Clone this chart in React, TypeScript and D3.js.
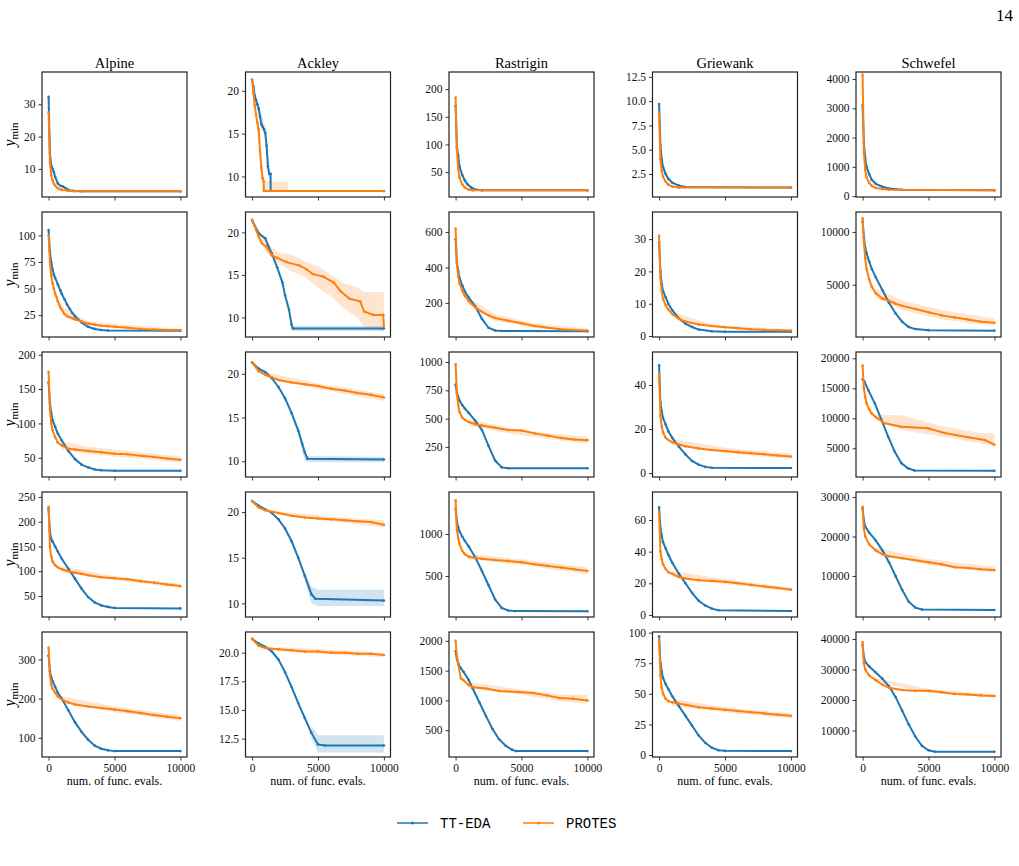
import { useEffect, useRef } from "react";
import * as d3 from "d3";

const FUNCS = ["Alpine", "Ackley", "Rastrigin", "Griewank", "Schwefel"];
const SERIES = ["TT-EDA", "PROTES"];
const X_TICKS = [0, 5000, 10000];

// each row of a function: list of [evals, y_min]
const alpineEda = [
  [[0, 32.3], [100, 15], [200, 11], [300, 10], [400, 9], [500, 7.5], [700, 5.5], [900, 4.8], [1100, 4.5], [1300, 4], [1500, 3.5], [1800, 3.2], [2500, 3.1], [10000, 3.1]],
  [[0, 105], [100, 85], [200, 75], [300, 68], [400, 63], [500, 60], [700, 54], [900, 48], [1000, 45], [1200, 40], [1400, 35], [1600, 31], [1800, 27], [2000, 24], [2500, 18], [3000, 14], [3500, 12], [4000, 11], [4500, 10.5], [10000, 10.3]],
  [[0, 160], [100, 130], [200, 115], [300, 105], [500, 95], [700, 85], [1000, 75], [1500, 60], [2000, 48], [2500, 40], [3000, 36], [3500, 33], [4000, 32], [5000, 31], [10000, 31]],
  [[0, 225], [100, 180], [200, 165], [300, 160], [500, 150], [700, 140], [1000, 125], [1500, 105], [2000, 85], [2500, 65], [3000, 48], [3500, 37], [4000, 31], [4500, 28], [5000, 26], [10000, 25]],
  [[0, 310], [100, 270], [200, 255], [300, 245], [500, 230], [700, 215], [1000, 200], [1500, 170], [2000, 140], [2500, 115], [3000, 95], [3500, 80], [4000, 72], [4500, 68], [5000, 66], [10000, 66]],
];
const alpineProtes = [
  [[0, 27.5], [100, 12], [200, 8], [300, 6.5], [400, 5.5], [500, 4.8], [700, 4], [1000, 3.5], [1500, 3.2], [2000, 3.1], [10000, 3.1]],
  [[0, 100], [100, 75], [200, 62], [300, 55], [400, 50], [500, 45], [600, 42], [700, 38], [800, 35], [900, 32], [1000, 30], [1200, 26], [1400, 24], [1600, 23], [1800, 22], [2000, 21], [2500, 19], [3000, 17], [3500, 16], [4000, 15], [4500, 14.5], [5000, 14], [6000, 13], [7000, 12], [8000, 11.5], [9000, 11], [10000, 11]],
  [[0, 175], [100, 120], [200, 100], [300, 90], [500, 80], [700, 72], [1000, 68], [1500, 63], [2000, 62], [3000, 60], [4000, 58], [5000, 56], [6000, 55], [7000, 53], [8000, 51], [9000, 49], [10000, 47]],
  [[0, 230], [100, 150], [200, 130], [300, 120], [500, 112], [700, 108], [1000, 104], [1500, 100], [2000, 97], [2500, 95], [3000, 92], [4000, 88], [5000, 86], [6000, 84], [7000, 80], [8000, 77], [9000, 73], [10000, 70]],
  [[0, 330], [100, 260], [200, 235], [300, 225], [500, 215], [700, 205], [1000, 198], [1500, 190], [2000, 185], [3000, 180], [4000, 176], [5000, 172], [6000, 168], [7000, 163], [8000, 158], [9000, 154], [10000, 150]],
];
const alpineBand = [
  [],
  [[1000, 28, 33], [3000, 16, 19], [10000, 10.5, 12]],
  [[1000, 62, 74], [3000, 55, 66], [6000, 50, 60], [10000, 43, 52]],
  [[1000, 98, 110], [5000, 82, 90], [10000, 66, 74]],
  [[1000, 190, 206], [5000, 165, 180], [10000, 143, 157]],
];
const alpineTicks = [[10, 20, 30], [25, 50, 75, 100], [50, 100, 150, 200], [50, 100, 150, 200, 250], [100, 200, 300]];
const alpineLims = [[1.3, 40], [4.4, 122], [22, 204], [7.6, 260], [51, 370]];

const ackleyEda = [
  [[0, 21.3], [100, 20.5], [200, 19.4], [300, 18.9], [400, 18.4], [500, 17.9], [600, 17], [700, 16.1], [800, 15.8], [900, 15.5], [1000, 15.1], [1100, 13.6], [1200, 11.2], [1300, 10.3], [1400, 10.3], [1410, 8.3], [10000, 8.3]],
  [[0, 21.4], [500, 19.9], [1000, 19.3], [1200, 18.5], [1500, 17.5], [1900, 15.9], [2300, 14.1], [2500, 12.6], [2800, 10.9], [3000, 9.1], [3100, 8.7], [10000, 8.7]],
  [[0, 21.3], [500, 20.6], [1000, 20.2], [1500, 19.5], [2000, 18.5], [2500, 17.2], [3000, 15.5], [3500, 13.5], [3800, 12], [4000, 11], [4200, 10.3], [10000, 10.2]],
  [[0, 21.2], [500, 20.7], [1000, 20.3], [1500, 19.9], [2000, 19.2], [2500, 18.2], [3000, 16.8], [3500, 15], [4000, 13], [4500, 11], [4800, 10.5], [10000, 10.3]],
  [[0, 21.2], [500, 20.8], [1000, 20.5], [1500, 20.1], [2000, 19.4], [2500, 18.3], [3000, 17], [3500, 15.6], [4000, 14.3], [4500, 13], [5000, 12], [5500, 11.9], [10000, 11.9]],
];
const ackleyEdaBand = [
  [[0, 21.3, 21.3], [500, 17.5, 18.3], [1000, 14.3, 15.8], [1300, 9.8, 11], [1400, 8.3, 10.3], [1410, 8.3, 8.3]],
  [[3000, 8.5, 9.5], [3100, 8.4, 9], [10000, 8.4, 9]],
  [[3500, 13, 14], [4000, 10, 11.5], [4200, 9.9, 10.6], [10000, 9.9, 10.5]],
  [[4000, 12.5, 13.5], [4500, 10, 11.8], [5000, 9.7, 11.5], [10000, 9.7, 11.5]],
  [[4500, 12.5, 13.6], [5000, 11.3, 12.8], [10000, 11.3, 12.8]],
];
const ackleyProtes = [
  [[0, 21.3], [100, 19.8], [200, 18.3], [300, 17.2], [400, 16.3], [500, 15.5], [600, 13], [700, 11], [800, 9.8], [880, 9.4], [890, 8.3], [10000, 8.3]],
  [[0, 21.5], [300, 20.3], [500, 19.5], [750, 18.7], [1100, 18.3], [1500, 17.3], [1900, 17], [2600, 16.5], [3600, 16.1], [4100, 15.7], [4600, 15.1], [5400, 14.8], [6200, 14.1], [6700, 13.1], [7400, 12.2], [8200, 11.9], [8500, 10.7], [9200, 10.3], [9950, 10.3], [10000, 9]],
  [[0, 21.3], [500, 20.3], [1000, 19.9], [1500, 19.6], [2000, 19.3], [3000, 19], [4000, 18.8], [5000, 18.6], [6000, 18.3], [7000, 18.1], [8000, 17.8], [9000, 17.6], [10000, 17.3]],
  [[0, 21.2], [500, 20.5], [1000, 20.2], [2000, 19.9], [3000, 19.6], [4000, 19.4], [5000, 19.3], [6000, 19.2], [7000, 19.1], [8000, 19], [9000, 18.9], [10000, 18.6]],
  [[0, 21.2], [500, 20.6], [1000, 20.4], [2000, 20.3], [3000, 20.2], [4000, 20.1], [5000, 20.1], [6000, 20], [7000, 20], [8000, 19.9], [9000, 19.9], [10000, 19.8]],
];
const ackleyBand = [
  [[0, 21.3, 21.3], [300, 16.5, 18], [600, 12, 14], [900, 8.3, 9.4], [2700, 8.3, 9.4], [2710, 8.3, 8.3]],
  [[0, 21.5, 21.5], [1000, 17.8, 19], [2000, 16.3, 17.6], [3000, 15.4, 17.4], [4000, 14.8, 16.6], [5000, 13.5, 16], [6000, 12.5, 15], [7000, 11, 14], [8000, 10, 13.5], [8500, 8.8, 13], [10000, 8.5, 13]],
  [[1000, 19.6, 20.2], [5000, 18.3, 18.9], [10000, 16.9, 17.7]],
  [[2000, 19.7, 20.1], [6000, 19, 19.5], [10000, 18.3, 19.1]],
  [[2000, 20.1, 20.5], [10000, 19.6, 20]],
];
const ackleyTicks = [[10, 15, 20], [10, 15, 20], [10, 15, 20], [10, 15, 20], [12.5, 15, 17.5, 20]];
const ackleyLims = [[7.6, 22.2], [7.7, 22.4], [8.2, 22.5], [8.5, 22.2], [10.9, 21.8]];

const rastriginEda = [
  [[0, 170], [100, 95], [200, 80], [300, 60], [500, 45], [700, 35], [900, 28], [1200, 22], [1600, 18], [2000, 17], [10000, 17]],
  [[0, 560], [100, 430], [200, 380], [300, 340], [500, 300], [700, 265], [1000, 230], [1500, 180], [2000, 110], [2500, 60], [3000, 45], [3500, 42], [10000, 40]],
  [[0, 800], [100, 730], [200, 690], [300, 660], [500, 620], [700, 590], [1000, 550], [1500, 480], [2000, 400], [2500, 260], [3000, 130], [3500, 70], [4000, 62], [10000, 62]],
  [[0, 1300], [100, 1150], [200, 1080], [300, 1030], [500, 970], [700, 920], [1000, 850], [1500, 720], [2000, 560], [2500, 390], [3000, 220], [3500, 120], [4000, 90], [4500, 82], [10000, 80]],
  [[0, 1830], [100, 1700], [200, 1620], [400, 1540], [600, 1480], [1000, 1340], [1300, 1200], [1800, 970], [2300, 740], [2800, 520], [3300, 350], [3800, 240], [4300, 170], [4600, 150], [10000, 150]],
];
const rastriginProtes = [
  [[0, 185], [100, 90], [200, 55], [300, 40], [500, 28], [700, 22], [1000, 18], [1300, 17], [10000, 17]],
  [[0, 620], [100, 420], [200, 350], [300, 310], [500, 270], [700, 240], [1000, 210], [1500, 175], [2000, 150], [2500, 130], [3000, 115], [4000, 100], [5000, 85], [6000, 70], [7000, 60], [8000, 52], [9000, 47], [10000, 45]],
  [[0, 980], [100, 720], [200, 620], [300, 560], [500, 510], [700, 490], [1000, 470], [1500, 450], [2000, 440], [3000, 420], [4000, 400], [5000, 395], [6000, 370], [7000, 350], [8000, 330], [9000, 315], [10000, 310]],
  [[0, 1400], [100, 1050], [200, 950], [300, 880], [500, 800], [700, 760], [1000, 730], [1500, 715], [2000, 705], [3000, 690], [4000, 680], [5000, 665], [6000, 640], [7000, 620], [8000, 600], [9000, 580], [10000, 560]],
  [[0, 2000], [100, 1740], [200, 1600], [400, 1370], [600, 1340], [1000, 1255], [1300, 1220], [2300, 1200], [3300, 1160], [4800, 1140], [5900, 1125], [6900, 1085], [7900, 1040], [8900, 1030], [10000, 1000]],
];
const rastriginBand = [
  [],
  [[1000, 190, 230], [3000, 100, 135], [6000, 58, 85], [10000, 38, 55]],
  [[1000, 440, 500], [4000, 370, 420], [7000, 320, 370], [10000, 280, 340]],
  [[1000, 700, 760], [5000, 630, 700], [10000, 520, 600]],
  [[1000, 1200, 1310], [5000, 1100, 1180], [8000, 980, 1100], [10000, 950, 1090]],
];
const rastriginTicks = [[50, 100, 150, 200], [200, 400, 600], [250, 500, 750, 1000], [500, 1000], [500, 1000, 1500, 2000]];
const rastriginLims = [[5, 231], [8, 713], [-15, 1088], [12, 1500], [51, 2148]];

const griewankEda = [
  [[0, 9.7], [100, 5.5], [200, 4], [300, 3.2], [500, 2.5], [700, 2], [1000, 1.6], [1500, 1.3], [2000, 1.15], [10000, 1.1]],
  [[0, 29], [100, 20], [200, 16], [300, 14], [500, 12], [700, 10], [1000, 8], [1500, 5.5], [2000, 3.8], [2500, 2.8], [3000, 2], [4000, 1.5], [5000, 1.3], [10000, 1.3]],
  [[0, 49], [100, 32], [200, 28], [300, 25], [500, 22], [700, 19], [1000, 16], [1500, 12], [2000, 8.5], [2500, 5.5], [3000, 3.8], [3500, 2.8], [4000, 2.4], [10000, 2.3]],
  [[0, 68], [100, 55], [200, 50], [300, 46], [500, 42], [700, 38], [1000, 33], [1500, 26], [2000, 20], [2500, 14], [3000, 9], [3500, 6], [4000, 4], [4500, 3], [10000, 2.5]],
  [[0, 97], [100, 75], [200, 68], [300, 63], [500, 58], [700, 54], [1000, 48], [1500, 40], [2000, 32], [2500, 24], [3000, 16], [3500, 10], [4000, 6], [4500, 4], [5000, 3.5], [10000, 3.2]],
];
const griewankProtes = [
  [[0, 8.8], [100, 4], [200, 2.8], [300, 2.2], [500, 1.7], [700, 1.4], [1000, 1.2], [1500, 1.1], [10000, 1.1]],
  [[0, 31], [100, 18], [200, 14], [300, 11.5], [500, 9.5], [700, 8.2], [1000, 6.8], [1500, 5.3], [2000, 4.5], [3000, 3.6], [4000, 3.1], [5000, 2.7], [6000, 2.4], [7000, 2.1], [8000, 1.9], [9000, 1.8], [10000, 1.7]],
  [[0, 45], [100, 26], [200, 21], [300, 18.5], [500, 16], [700, 15], [1000, 14], [1500, 13], [2000, 12.2], [3000, 11.2], [4000, 10.5], [5000, 10], [6000, 9.5], [7000, 9], [8000, 8.5], [9000, 8], [10000, 7.5]],
  [[0, 65], [100, 40], [200, 35], [300, 32], [500, 29], [700, 27], [1000, 26], [1500, 24], [2000, 23], [3000, 22], [4000, 21.5], [5000, 21], [6000, 20], [7000, 19], [8000, 18], [9000, 17], [10000, 16]],
  [[0, 95], [100, 65], [200, 55], [300, 50], [500, 46], [700, 44], [1000, 43], [1500, 42], [2000, 41], [3000, 39], [4000, 38], [5000, 37], [6000, 36], [7000, 35], [8000, 34], [9000, 33], [10000, 32]],
];
const griewankBand = [
  [],
  [[1000, 6, 7.6], [4000, 2.7, 3.6], [10000, 1.4, 2]],
  [[1000, 13, 15.5], [5000, 9, 11.5], [10000, 6.5, 8.8]],
  [[1000, 24, 28], [5000, 19.5, 22.5], [10000, 15, 17.5]],
  [[1000, 40, 46], [5000, 35, 39], [10000, 30, 34]],
];
const griewankTicks = [[2.5, 5, 7.5, 10, 12.5], [0, 10, 20, 30], [0, 20, 40], [0, 20, 40, 60], [0, 25, 50, 75, 100]];
const griewankLims = [[0.13, 13], [-0.3, 38.4], [-1.8, 55], [-1.3, 77.7], [-1.6, 100.5]];

const schwefelEda = [
  [[0, 3100], [100, 1800], [200, 1300], [300, 1000], [500, 750], [700, 550], [1000, 420], [1500, 320], [2000, 260], [3000, 220], [10000, 200]],
  [[0, 11000], [100, 9500], [200, 8500], [300, 8000], [500, 7200], [700, 6500], [1000, 5700], [1500, 4500], [2000, 3300], [2500, 2300], [3000, 1500], [3500, 1000], [4000, 800], [5000, 700], [10000, 650]],
  [[0, 16500], [150, 16100], [430, 14700], [930, 12500], [1440, 9700], [1940, 6930], [2440, 4430], [2950, 2500], [3450, 1670], [3930, 1300], [10000, 1270]],
  [[0, 27000], [100, 24000], [200, 22500], [500, 21000], [1000, 19000], [1500, 16500], [2000, 13500], [2500, 10000], [3000, 6500], [3500, 3500], [4000, 2000], [4500, 1500], [10000, 1400]],
  [[0, 38000], [100, 34000], [200, 32500], [500, 31000], [1000, 29000], [1500, 27000], [2000, 24500], [2500, 21000], [3000, 16500], [3500, 12000], [4000, 8000], [4500, 5000], [5000, 3500], [5500, 3000], [10000, 3000]],
];
const schwefelProtes = [
  [[0, 4150], [100, 1500], [200, 900], [300, 650], [500, 450], [700, 350], [1000, 280], [1500, 240], [2000, 220], [10000, 200]],
  [[0, 11300], [100, 9000], [200, 7500], [300, 6500], [500, 5500], [700, 4800], [1000, 4200], [1500, 3700], [2000, 3500], [2500, 3200], [3000, 3000], [4000, 2700], [5000, 2400], [6000, 2100], [7000, 1900], [8000, 1700], [9000, 1500], [10000, 1400]],
  [[0, 18800], [100, 15000], [200, 13500], [300, 12500], [500, 11500], [700, 10800], [1000, 10200], [1680, 9170], [2950, 8600], [4960, 8330], [6220, 7550], [8000, 6830], [9260, 6380], [10000, 5600]],
  [[0, 27500], [100, 22000], [200, 20000], [500, 18000], [1000, 16500], [1500, 15500], [2000, 15000], [3000, 14500], [4000, 14000], [5000, 13500], [6000, 13000], [7000, 12200], [8000, 12000], [9000, 11700], [10000, 11500]],
  [[0, 39000], [100, 32000], [200, 30000], [500, 28000], [1000, 26500], [1500, 25000], [2000, 24000], [3000, 23300], [4000, 23000], [5000, 23000], [6000, 22500], [7000, 22000], [8000, 21800], [9000, 21500], [10000, 21300]],
];
const schwefelBand = [
  [],
  [[1000, 3800, 4700], [3000, 2600, 3500], [6000, 1700, 2600], [10000, 1100, 1800]],
  [[1000, 9800, 10600], [3000, 8000, 10500], [6000, 7000, 8700], [9000, 5800, 7500], [10000, 5300, 7500]],
  [[1000, 15800, 17200], [5000, 12800, 14300], [10000, 10800, 12300]],
  [[1000, 25800, 27200], [5000, 22400, 23600], [10000, 20700, 21900]],
];
const schwefelTicks = [[0, 1000, 2000, 3000, 4000], [5000, 10000], [5000, 10000, 15000, 20000], [10000, 20000, 30000], [10000, 20000, 30000, 40000]];
const schwefelLims = [[-30, 4240], [50, 11900], [217, 21050], [-380, 31270], [1300, 42300]];

const EDA = [alpineEda, ackleyEda, rastriginEda, griewankEda, schwefelEda];
const PROTES = [alpineProtes, ackleyProtes, rastriginProtes, griewankProtes, schwefelProtes];
const EDA_BAND = [[], ackleyEdaBand, [], [], []];
const PROTES_BAND = [alpineBand, ackleyBand, rastriginBand, griewankBand, schwefelBand];
const TICKS = [alpineTicks, ackleyTicks, rastriginTicks, griewankTicks, schwefelTicks];
const LIMS = [alpineLims, ackleyLims, rastriginLims, griewankLims, schwefelLims];

const COLORS = ["#1f77b4", "#ff7f0e"];
const SERIF = "'Liberation Serif', 'DejaVu Serif', serif";
const MONO = "'Liberation Mono', 'DejaVu Sans Mono', monospace";

function App() {
  const ref = useRef(null);

  useEffect(() => {
    const svg = d3.select(ref.current);
    svg.selectAll("*").remove();

    const W = 145;
    const H = 125;
    const left0 = 42;
    const top0 = 72;
    const dx = 203.5;
    const dy = 140;

    svg
      .append("text")
      .attr("x", 1013)
      .attr("y", 21)
      .attr("text-anchor", "end")
      .attr("font-family", SERIF)
      .attr("font-size", 17)
      .text("14");

    FUNCS.forEach((name, c) => {
      const left = left0 + c * dx;
      svg
        .append("text")
        .attr("x", left + W / 2)
        .attr("y", top0 - 4)
        .attr("text-anchor", "middle")
        .attr("font-family", SERIF)
        .attr("font-size", 14.5)
        .text(name);

      for (let r = 0; r < 5; r++) {
        const top = top0 + r * dy;
        const x = d3.scaleLinear().domain([-500, 10500]).range([left, left + W]);
        const y = d3.scaleLinear().domain(LIMS[c][r]).range([top + H, top]);
        const g = svg.append("g");
        const clipId = `clip-${c}-${r}`;
        g.append("clipPath")
          .attr("id", clipId)
          .append("rect")
          .attr("x", left)
          .attr("y", top)
          .attr("width", W)
          .attr("height", H);
        const plot = g.append("g").attr("clip-path", `url(#${clipId})`);

        const area = d3
          .area()
          .x((d) => x(d[0]))
          .y0((d) => y(d[1]))
          .y1((d) => y(d[2]));
        const line = d3
          .line()
          .x((d) => x(d[0]))
          .y((d) => y(d[1]));

        [EDA_BAND[c][r] || [], PROTES_BAND[c][r] || []].forEach((band, s) => {
          if (!band.length) return;
          plot
            .append("path")
            .datum(band)
            .attr("fill", COLORS[s])
            .attr("fill-opacity", 0.2)
            .attr("d", area);
        });

        [EDA[c][r], PROTES[c][r]].forEach((pts, s) => {
          plot
            .append("path")
            .datum(pts)
            .attr("fill", "none")
            .attr("stroke", COLORS[s])
            .attr("stroke-width", 2)
            .attr("d", line);
          plot
            .selectAll(null)
            .data(pts)
            .enter()
            .append("circle")
            .attr("cx", (d) => x(d[0]))
            .attr("cy", (d) => y(d[1]))
            .attr("r", 1.3)
            .attr("fill", COLORS[s]);
        });

        const ticks = TICKS[c][r];
        const decimals = ticks.some((t) => !Number.isInteger(t));
        const yAxis = g
          .append("g")
          .attr("transform", `translate(${left},0)`)
          .call(
            d3
              .axisLeft(y)
              .tickValues(ticks)
              .tickSize(3.5)
              .tickPadding(3)
              .tickFormat((t) => (decimals ? t.toFixed(1) : String(t)))
          );
        const xAxis = g
          .append("g")
          .attr("transform", `translate(0,${top + H})`)
          .call(
            d3
              .axisBottom(x)
              .tickValues(X_TICKS)
              .tickSize(3.5)
              .tickPadding(3)
              .tickFormat((t) => (r === 4 ? String(t) : ""))
          );
        [yAxis, xAxis].forEach((a) => {
          a.select(".domain").remove();
          a.selectAll("line").attr("stroke", "#222").attr("stroke-width", 0.9);
          a.selectAll("text")
            .attr("font-family", SERIF)
            .attr("font-size", 11.5)
            .attr("fill", "#111");
        });

        g.append("rect")
          .attr("x", left)
          .attr("y", top)
          .attr("width", W)
          .attr("height", H)
          .attr("fill", "none")
          .attr("stroke", "#222")
          .attr("stroke-width", 1.2);

        if (c === 0) {
          const lbl = g
            .append("text")
            .attr("transform", `translate(15,${top + H / 2}) rotate(-90)`)
            .attr("text-anchor", "middle")
            .attr("font-family", SERIF)
            .attr("font-size", 16);
          lbl.append("tspan").attr("font-style", "italic").text("y");
          lbl
            .append("tspan")
            .attr("font-size", 11)
            .attr("dy", 2.5)
            .text("min");
        }
        if (r === 4) {
          g.append("text")
            .attr("x", left + W / 2)
            .attr("y", top + H + 28)
            .attr("text-anchor", "middle")
            .attr("font-family", SERIF)
            .attr("font-size", 12)
            .text("num. of func. evals.");
        }
      }
    });

    // legend
    const legendX = [397, 523];
    SERIES.forEach((s, i) => {
      const lx = legendX[i];
      svg
        .append("line")
        .attr("x1", lx)
        .attr("x2", lx + 31)
        .attr("y1", 823)
        .attr("y2", 823)
        .attr("stroke", COLORS[i])
        .attr("stroke-width", 1.5);
      svg
        .append("circle")
        .attr("cx", lx + 15.5)
        .attr("cy", 823)
        .attr("r", 1.5)
        .attr("fill", COLORS[i]);
      svg
        .append("text")
        .attr("x", lx + 43)
        .attr("y", 828)
        .attr("font-family", MONO)
        .attr("font-size", 14)
        .text(s);
    });
  }, []);

  return (
    <svg
      ref={ref}
      width={1019}
      height={866}
      style={{ position: "absolute", left: 0, top: 0, background: "#fff" }}
    />
  );
}

export default App;
